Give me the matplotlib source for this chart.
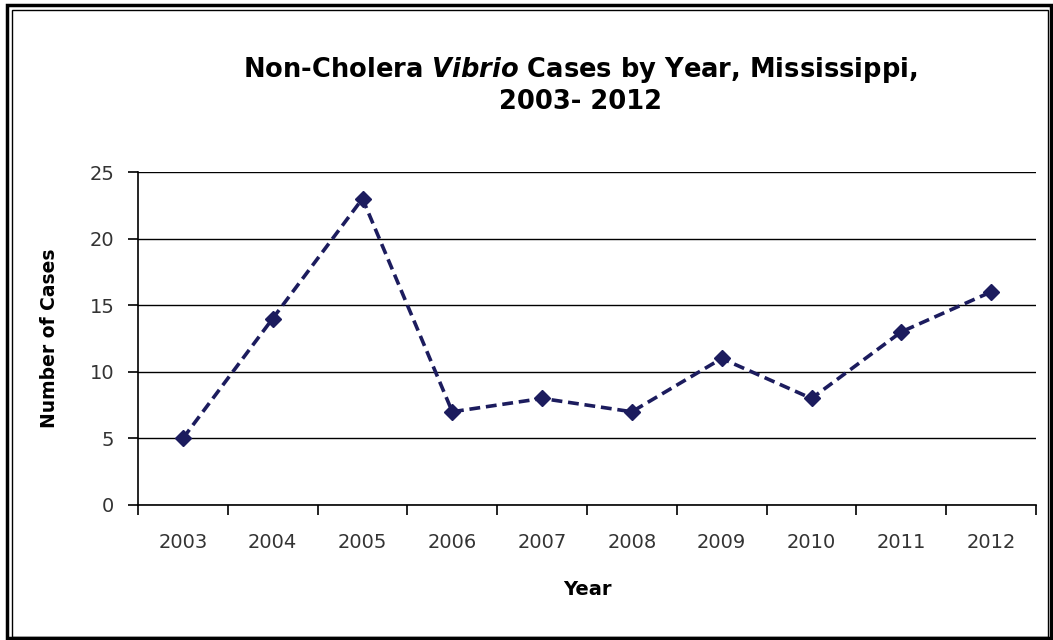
import matplotlib
matplotlib.use("Agg")
import matplotlib.pyplot as plt
from matplotlib.patches import Rectangle
import numpy as np

years = ["2003", "2004", "2005", "2006", "2007", "2008", "2009", "2010", "2011", "2012"]
cases = [5, 14, 23, 7, 8, 7, 11, 8, 13, 16]
yticks = [0, 5, 10, 15, 20, 25]

plt.rcParams['font.family'] = ['DejaVu Sans']

fig = plt.figure(figsize=(10.53, 6.4), dpi=100)
# outer double border
fig.patches.append(Rectangle((7/1053, 2/640), 1044/1053, 633/640, transform=fig.transFigure,
                             fill=False, edgecolor='black', linewidth=2.5))
fig.patches.append(Rectangle((12/1053, 3/640), 1036/1053, 627/640, transform=fig.transFigure,
                             fill=False, edgecolor='black', linewidth=1.0))

ax = fig.add_axes([138/1053, 1 - 505/640, (1036-138)/1053, (505-172)/640])
x = np.arange(len(years))
ax.plot(x, cases, linestyle=(0, (3, 1.6)), color='#1c1c5e', linewidth=2.6,
        marker='D', markersize=8, markerfacecolor='#1c1c5e', markeredgecolor='#1c1c5e')

ax.set_xlim(-0.5, len(years) - 0.5)
ax.set_ylim(0, 25)
ax.set_yticks(yticks)
ax.set_yticklabels([str(v) for v in yticks], fontsize=14, color='#333333')
ax.set_xticks(x)
ax.set_xticklabels(years, fontsize=14, color='#333333')
ax.tick_params(axis='x', length=0, pad=20)
ax.set_xticks(np.arange(-0.5, len(years), 1), minor=True)
ax.tick_params(axis='x', which='minor', length=7, width=1.2, direction='out', color='black')
ax.tick_params(axis='y', length=7, width=1.2, direction='out', pad=10)
ax.grid(axis='y', color='black', linewidth=1.0)
ax.set_axisbelow(True)
for s in ['top', 'right']:
    ax.spines[s].set_visible(False)
ax.spines['left'].set_linewidth(1.2)
ax.spines['bottom'].set_linewidth(1.2)

ax.set_xlabel('Year', fontsize=14, fontweight='bold', labelpad=20)
ax.set_ylabel('Number of Cases', fontsize=13.5, fontweight='bold', labelpad=22)

fig.text(0.551, 1 - 70/640, 'Non-Cholera $\\mathbfit{Vibrio}$ Cases by Year, Mississippi,',
         ha='center', va='center', fontsize=18.5, fontweight='bold')
fig.text(0.551, 1 - 102/640, '2003- 2012', ha='center', va='center', fontsize=18.5, fontweight='bold')

fig.savefig('out.png', dpi=100)
